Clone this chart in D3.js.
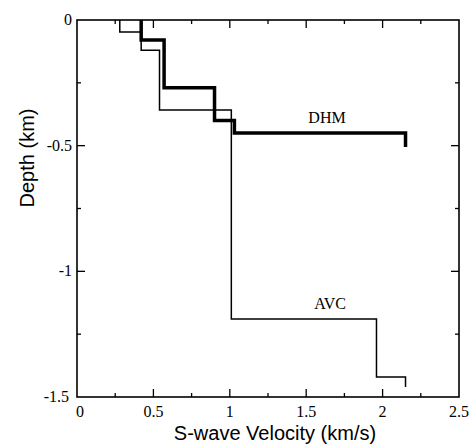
<!DOCTYPE html>
<html><head><meta charset="utf-8">
<script src="https://cdn.jsdelivr.net/npm/d3@7"></script>
<style>body{margin:0;background:#fff}</style>
</head><body>
<svg id="c" width="471" height="445"></svg>
<script>
const xTicks = [0, 0.5, 1, 1.5, 2, 2.5];
const xTickLabels = ["0", "0.5", "1", "1.5", "2", "2.5"];
const yTicks = [0, -0.5, -1, -1.5];
const yTickLabels = ["0", "-0.5", "-1", "-1.5"];
const dhmVelocity = [0.42, 0.57, 0.90, 1.03, 2.15];
const dhmLayerTop = [0, -0.08, -0.27, -0.40, -0.45];
const dhmBottom = -0.505;
const avcVelocity = [0.28, 0.42, 0.54, 1.01, 1.96, 2.15];
const avcLayerTop = [0, -0.048, -0.12, -0.358, -1.19, -1.42];
const avcBottom = -1.46;

const svg = d3.select("#c");
const L = 77, R = 459, T = 20, B = 397;
const x = d3.scaleLinear().domain([0, 2.5]).range([L, R]);
const y = d3.scaleLinear().domain([0, -1.5]).range([T, B]);

function steps(vel, tops, bottom) {
  const pts = [];
  vel.forEach((v, i) => {
    const bot = i < vel.length - 1 ? tops[i + 1] : bottom;
    pts.push([v, tops[i]], [v, bot]);
  });
  return pts;
}
const line = d3.line().x(d => x(d[0])).y(d => y(d[1]));

// frame
svg.append("rect").attr("x", L).attr("y", T).attr("width", R - L).attr("height", B - T)
  .attr("fill", "none").attr("stroke", "#000").attr("stroke-width", 1.6);

// ticks
const g = svg.append("g").attr("stroke", "#000").attr("stroke-width", 1.3);
const xMinor = d3.range(0.25, 2.5, 0.5);
const yMinor = [-0.25, -0.75, -1.25];
xTicks.slice(1, -1).forEach(t => {
  g.append("line").attr("x1", x(t)).attr("x2", x(t)).attr("y1", B).attr("y2", B - 8);
  g.append("line").attr("x1", x(t)).attr("x2", x(t)).attr("y1", T).attr("y2", T + 8);
});
xMinor.forEach(t => {
  g.append("line").attr("x1", x(t)).attr("x2", x(t)).attr("y1", B).attr("y2", B - 4);
  g.append("line").attr("x1", x(t)).attr("x2", x(t)).attr("y1", T).attr("y2", T + 4);
});
yTicks.slice(1, -1).forEach(t => {
  g.append("line").attr("y1", y(t)).attr("y2", y(t)).attr("x1", L).attr("x2", L + 8);
  g.append("line").attr("y1", y(t)).attr("y2", y(t)).attr("x1", R).attr("x2", R - 8);
});
yMinor.forEach(t => {
  g.append("line").attr("y1", y(t)).attr("y2", y(t)).attr("x1", L).attr("x2", L + 4);
  g.append("line").attr("y1", y(t)).attr("y2", y(t)).attr("x1", R).attr("x2", R - 4);
});

// tick labels
const serif = "'Liberation Serif','Times New Roman',serif";
xTicks.forEach((t, i) => {
  svg.append("text").attr("x", x(t) + (i === 0 ? 3 : 0)).attr("y", B + 20)
    .attr("text-anchor", "middle").attr("font-family", serif).attr("font-size", 16)
    .text(xTickLabels[i]);
});
yTicks.forEach((t, i) => {
  svg.append("text").attr("x", L - 5 - (i === yTicks.length - 1 ? 3 : 0)).attr("y", y(t) + 5)
    .attr("text-anchor", "end").attr("font-family", serif).attr("font-size", 16)
    .text(yTickLabels[i]);
});

// axis titles
const sans = "'Liberation Sans',Arial,sans-serif";
svg.append("text").attr("x", 275).attr("y", 440).attr("text-anchor", "middle")
  .attr("font-family", sans).attr("font-size", 20).text("S-wave Velocity (km/s)");
svg.append("text").attr("transform", `translate(34,158) rotate(-90)`)
  .attr("text-anchor", "middle").attr("font-family", sans).attr("font-size", 20).text("Depth (km)");

// profiles
svg.append("path").attr("d", line(steps(avcVelocity, avcLayerTop, avcBottom)))
  .attr("fill", "none").attr("stroke", "#000").attr("stroke-width", 1.5);
svg.append("path").attr("d", line(steps(dhmVelocity, dhmLayerTop, dhmBottom)))
  .attr("fill", "none").attr("stroke", "#000").attr("stroke-width", 3.5)
  .attr("stroke-linejoin", "miter");

svg.append("text").attr("x", 327).attr("y", 123).attr("text-anchor", "middle")
  .attr("font-family", serif).attr("font-size", 16).text("DHM");
svg.append("text").attr("x", 330).attr("y", 309).attr("text-anchor", "middle")
  .attr("font-family", serif).attr("font-size", 16).text("AVC");
</script>
</body></html>
